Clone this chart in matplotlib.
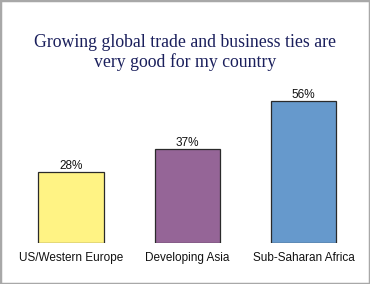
import matplotlib.pyplot as plt
from matplotlib.patches import Rectangle

# data
regions = ['US/Western Europe', 'Developing Asia', 'Sub-Saharan Africa']
values = [28, 37, 56]
colors = ['#FFF384', '#956597', '#6699CC']
title = 'Growing global trade and business ties are\nvery good for my country'

fig = plt.figure(figsize=(3.7, 2.84), dpi=100)
fig.patch.set_facecolor('white')
fig.patches.append(Rectangle((0, 0), 1, 1, transform=fig.transFigure,
                             fill=False, edgecolor='#a8a8a8', linewidth=2.5))

ax = fig.add_axes([0.0, 0.1444, 1.0, 0.5366])
x = range(len(values))
ax.bar(x, values, width=0.56, color=colors, edgecolor='#2a2a2a', linewidth=0.9)
for xi, v in zip(x, values):
    ax.text(xi, v + 0.1, '%d%%' % v, ha='center', va='bottom',
            fontsize=8.5, family='Liberation Sans', color='#111111')
ax.set_xlim(-0.611, 2.572)
ax.set_ylim(0, 60)
ax.set_xticks(list(x))
ax.set_xticklabels(regions, fontsize=8.5, family='Liberation Sans', color='#111111')
ax.tick_params(axis='x', length=0, pad=6.5)
ax.set_yticks([])
for s in ax.spines.values():
    s.set_visible(False)
ax.patch.set_alpha(0)

fig.text(0.5, 0.815, title, ha='center', va='center', fontsize=12.8,
         family='Liberation Serif', color='#1a1f5c', linespacing=1.1)

fig.savefig('out.png', dpi=100)
